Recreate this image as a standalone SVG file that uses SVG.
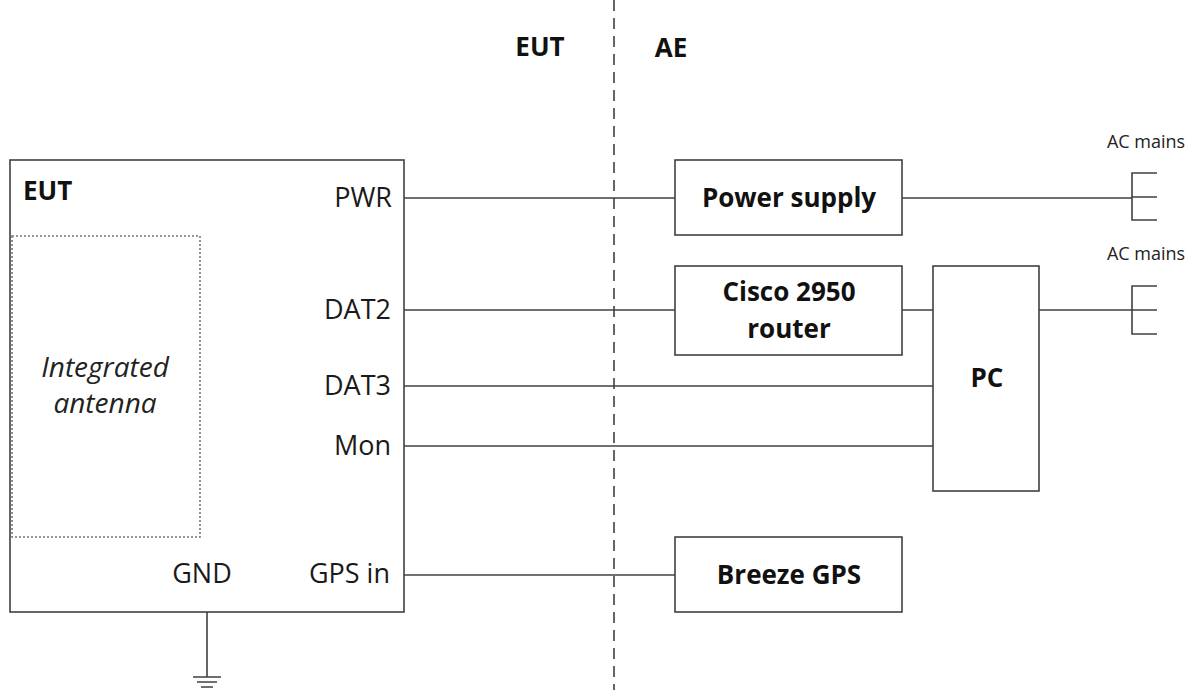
<svg xmlns="http://www.w3.org/2000/svg" width="1197" height="690" viewBox="0 0 1197 690">
<style>
.box{fill:#fff;stroke:#404040;stroke-width:1.6}
.ln{stroke:#404040;stroke-width:1.6;fill:none}
.t{font-family:"Open Sans","Liberation Sans",sans-serif;font-size:27px;fill:#1a1a1a}
.b{font-family:"Open Sans","Liberation Sans",sans-serif;font-size:26px;font-weight:bold;fill:#111}
.s{font-family:"Open Sans","Liberation Sans",sans-serif;font-size:18px;fill:#222}
.i{font-family:"Open Sans","Liberation Sans",sans-serif;font-size:28px;font-style:italic;fill:#222}
</style>
<rect width="1197" height="690" fill="#fff"/>
<line x1="614" y1="0" x2="614" y2="690" stroke="#404040" stroke-width="1.6" stroke-dasharray="11,7"/>
<text class="b" x="540" y="56" text-anchor="middle">EUT</text>
<text class="b" x="671" y="57" text-anchor="middle">AE</text>
<g id="eut">
<rect class="box" x="10" y="160" width="394" height="452"/>
<text class="b" x="23" y="200">EUT</text>
<text class="t" x="392" y="207" text-anchor="end">PWR</text>
<text class="t" x="391" y="319" text-anchor="end">DAT2</text>
<text class="t" x="391" y="395" text-anchor="end">DAT3</text>
<text class="t" x="391" y="455" text-anchor="end">Mon</text>
<text class="t" x="390" y="583" text-anchor="end">GPS in</text>
<text class="t" x="202" y="583" text-anchor="middle">GND</text>
</g>
<g id="antenna">
<rect x="12" y="236" width="188" height="301" fill="none" stroke="#777" stroke-width="1.6" stroke-dasharray="2,2"/>
<text class="i" x="105" y="377" text-anchor="middle">Integrated</text>
<text class="i" x="105" y="413" text-anchor="middle">antenna</text>
</g>
<g id="power-supply">
<rect class="box" x="675" y="160" width="227" height="75"/>
<text class="b" x="789" y="207" text-anchor="middle">Power supply</text>
</g>
<g id="router">
<rect class="box" x="675" y="266" width="227" height="89"/>
<text class="b" x="789" y="301" text-anchor="middle">Cisco 2950</text>
<text class="b" x="789" y="338" text-anchor="middle">router</text>
</g>
<g id="pc">
<rect class="box" x="933" y="266" width="106" height="225"/>
<text class="b" x="987" y="387" text-anchor="middle">PC</text>
</g>
<g id="gps">
<rect class="box" x="675" y="537" width="227" height="75"/>
<text class="b" x="789" y="584" text-anchor="middle">Breeze GPS</text>
</g>
<g id="mains1">
<text class="s" x="1146" y="148" text-anchor="middle">AC mains</text>
<path class="ln" d="M1157 173H1132V220H1157M1132 197H1157"/>
</g>
<g id="mains2">
<text class="s" x="1146" y="260" text-anchor="middle">AC mains</text>
<path class="ln" d="M1157 286H1132V334H1157M1132 310H1157"/>
</g>
<g id="ground">
<path class="ln" d="M207 612V677M193 677H221M197 682H217M201 687H213"/>
</g>
<g id="connectors">
<path class="ln" d="M404 198H675M902 198H1132"/>
<path class="ln" d="M404 310H675M902 310H933M1039 310H1132"/>
<path class="ln" d="M404 386H933"/>
<path class="ln" d="M404 446H933"/>
<path class="ln" d="M404 575H675"/>
</g>
</svg>
